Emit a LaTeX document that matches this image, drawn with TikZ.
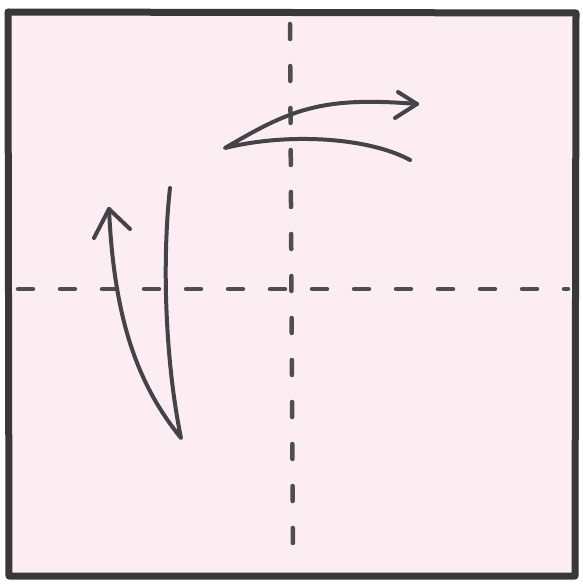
\documentclass[tikz,border=0pt]{standalone}
\begin{document}
\begin{tikzpicture}[x=1pt,y=-1pt,
  paper/.style={draw=framegray,fill=paperpink,line width=7pt,line join=round},
  fold/.style={draw=dashgray,line width=4.5pt,line cap=round,dash pattern=on 15pt off 27pt},
  stroke/.style={draw=strokegray,line width=4pt,line cap=round,line join=round}]
\definecolor{framegray}{HTML}{38383B}
\definecolor{paperpink}{HTML}{FCEDF2}
\definecolor{dashgray}{HTML}{4E4E52}
\definecolor{strokegray}{HTML}{444448}
\useasboundingbox[fill=white] (0,0) rectangle (582,586);
% paper square
\draw[paper] (8,12) -- (576,13) -- (575,576) -- (9,576) -- cycle;
% fold lines
\coordinate (vt) at (290,22);
\coordinate (vb) at (293,566);
\coordinate (hl) at (16,289);
\coordinate (hr) at (568,289);
\draw[fold,dash phase=-2pt] (vt) -- (vb);
\draw[fold,dash phase=-2pt] (hl) -- (hr);
% upper arrow
\coordinate (ua) at (225,148);
\coordinate (ue) at (410,160);
\coordinate (ut) at (417,104);
\draw[stroke] (ue) .. controls (370,138) and (290,132) .. (ua)
  .. controls (290,110) and (320,96) .. (ut);
\draw[stroke] (398,92) -- (ut) -- (395,118);
% left arrow
\coordinate (lb) at (181,438);
\coordinate (ls) at (170,188);
\coordinate (lt) at (109,209);
\draw[stroke] (ls) .. controls (162,260) and (165,360) .. (lb)
  .. controls (138,385) and (114,320) .. (lt);
\draw[stroke] (94,238) -- (lt) -- (130,229);
\end{tikzpicture}
\end{document}
